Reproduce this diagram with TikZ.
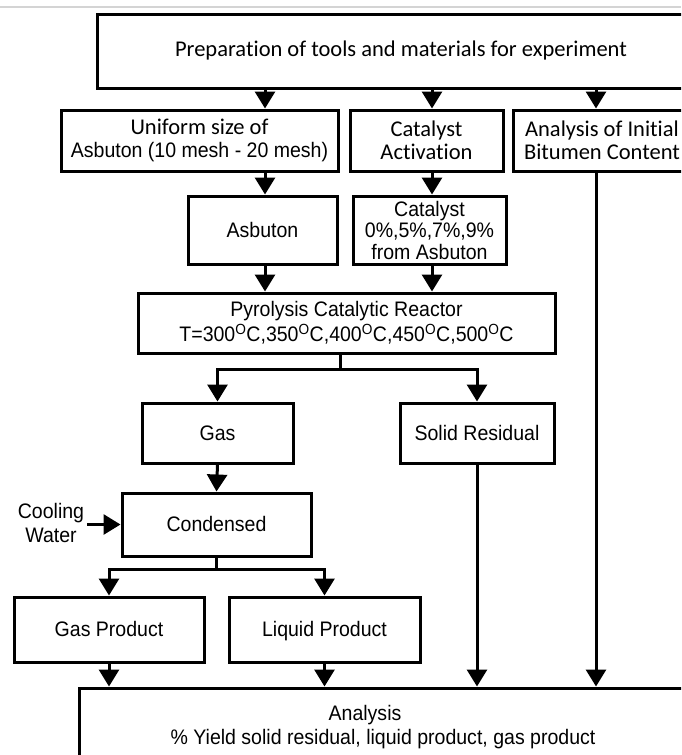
\documentclass[tikz,border=0pt]{standalone}
\usepackage{fontspec}
\setmainfont[FakeStretch=0.93]{Liberation Sans}
\newfontfamily\calib[Ligatures=NoCommon]{Carlito}
\usetikzlibrary{arrows.meta}
\definecolor{topgray}{RGB}{212,212,212}
\begin{document}
\begin{tikzpicture}[x=1pt,y=-1pt,
  box/.style={draw, line width=3pt, inner sep=0pt, align=center},
  arr/.style={line width=3pt, -{Triangle[length=17pt,width=20pt]}},
  ln/.style={line width=3pt, line cap=rect},
  cf/.style={font=\calib\fontsize{22.5}{23}\selectfont},
  af/.style={font=\fontsize{21}{21.5}\selectfont},
  one/.style={text height=16.5pt, text depth=2.5pt}]
\useasboundingbox (0,0) rectangle (681,755);
\clip (0,0) rectangle (681,755);
\fill[white] (0,0) rectangle (681,755);
\draw[topgray, line width=2pt] (0,7) -- (681,7);

\node[box, cf, minimum width=608pt, minimum height=74pt] (top) at (401,51) {Preparation of tools and materials for experiment};
\node[box, cf, minimum width=277pt, minimum height=61pt] (a) at (199.5,140.5) {Uniform size of\\{\fontsize{21}{21.5}\selectfont\rmfamily Asbuton (10 mesh - 20 mesh)}};
\node[box, cf, minimum width=153pt, minimum height=61pt] (b) at (426.5,140.5) {Catalyst\\Activation};
\node[box, cf, minimum width=178pt, minimum height=61pt] (c) at (602,140.5) {Analysis of Initial\\Bitumen Content};
\node[box, af, one, minimum width=149pt, minimum height=68pt] (asb) at (262.5,230) {Asbuton};
\node[box, af, minimum width=153pt, minimum height=68pt] (cat) at (429.5,230) {Catalyst\\0\%,5\%,7\%,9\%\\from Asbuton};
\node[box, af, minimum width=417pt, minimum height=60pt] (reac) at (346.5,323) {Pyrolysis Catalytic Reactor\\[2pt]T=300\textsuperscript{O}C,350\textsuperscript{O}C,400\textsuperscript{O}C,450\textsuperscript{O}C,500\textsuperscript{O}C};
\node[box, af, one, minimum width=151pt, minimum height=60pt] (gas) at (217.5,433) {Gas};
\node[box, af, one, minimum width=154pt, minimum height=60pt] (solid) at (477,433) {Solid Residual};
\node[box, af, one, minimum width=189pt, minimum height=63pt] (cond) at (216.5,524.5) {Condensed};
\node[af, align=center, inner sep=3pt] (cool) at (51,523) {Cooling\\[2.5pt]Water};
\node[box, af, one, minimum width=190pt, minimum height=65pt] (gp) at (109,629.5) {Gas Product};
\node[box, af, one, minimum width=191pt, minimum height=65pt] (lp) at (324.5,629.5) {Liquid Product};
\node[box, minimum width=700pt, minimum height=100pt] (ana) at (429,738) {};
\node[af, one, inner sep=0pt] (anat1) at (365,713) {Analysis};
\node[af, one, inner sep=0pt] (anat2) at (383,737) {\% Yield solid residual, liquid product, gas product};

\coordinate (xl) at (265,0);
\coordinate (xm) at (432,0);
\coordinate (xr) at (596,0);
\coordinate (j1) at (340,369);
\coordinate (j2) at (216.5,569);

\draw[arr] (top.south -| xl) -- (a.north -| xl);
\draw[arr] (top.south -| xm) -- (b.north -| xm);
\draw[arr] (top.south -| xr) -- (c.north -| xr);
\draw[arr] (a.south -| xl) -- (asb.north -| xl);
\draw[arr] (b.south -| xm) -- (cat.north -| xm);
\draw[arr] (asb.south -| xl) -- (reac.north -| xl);
\draw[arr] (cat.south -| xm) -- (reac.north -| xm);
\draw[ln] (reac.south -| j1) -- (j1);
\draw[arr] (j1) -| (gas.north);
\draw[arr] (j1) -| (solid.north);
\draw[arr] (gas.south) -- (cond.north);
\draw[arr] (cool.east |- cond.west) -- (cond.west);
\draw[ln] (cond.south) -- (j2);
\draw[arr] (j2) -| (gp.north);
\draw[arr] (j2) -| (lp.north);
\draw[arr] (gp.south) -- (ana.north -| gp.south);
\draw[arr] (lp.south) -- (ana.north -| lp.south);
\draw[arr] (solid.south) -- (ana.north -| solid.south);
\draw[arr] (c.south -| xr) -- (ana.north -| xr);
\end{tikzpicture}
\end{document}
